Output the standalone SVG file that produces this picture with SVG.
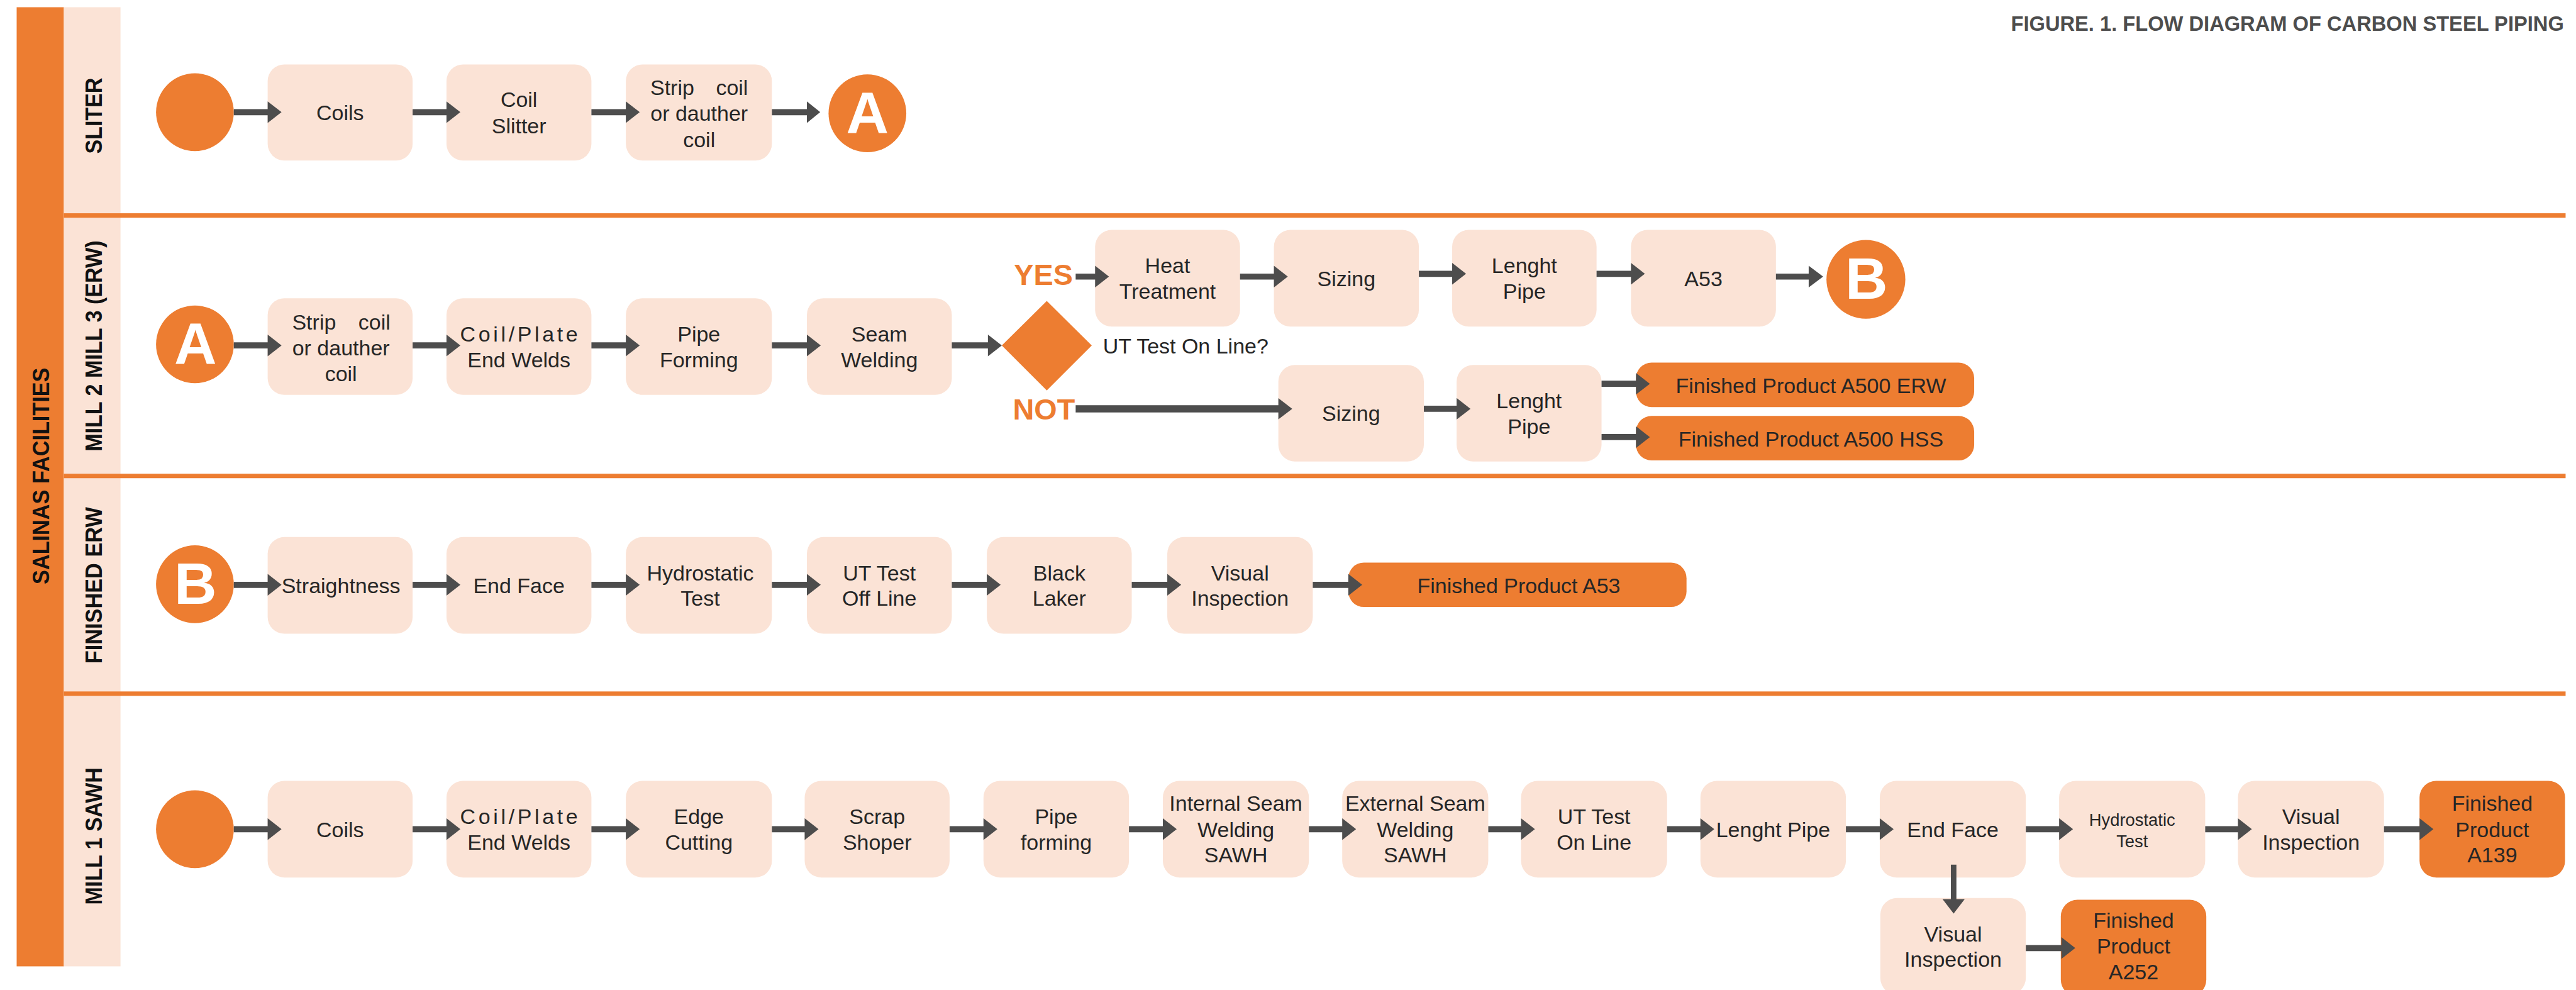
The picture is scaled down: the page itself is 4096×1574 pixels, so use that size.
<svg xmlns="http://www.w3.org/2000/svg" width="4096" height="1574" viewBox="0 0 4096 1574">
<style>
.bx{fill:#FBE3D6}
.fn{fill:#ED7D31}
.ci{fill:#ED7D31}
.t{font-family:'Liberation Sans',Arial,sans-serif;font-size:38.5px;fill:#262626;text-anchor:middle}
.ts{font-family:'Liberation Sans',Arial,sans-serif;font-size:31px;fill:#262626;text-anchor:middle}
.lt{font-family:'Liberation Sans',Arial,sans-serif;font-size:38.5px;fill:#262626}
.big{font-family:'Liberation Sans',Arial,sans-serif;font-weight:bold;font-size:106px;fill:#FFFFFF;text-anchor:middle}
.yn{font-family:'Liberation Sans',Arial,sans-serif;font-weight:bold;font-size:53px;fill:#ED7D31}
.ln{font-family:'Liberation Sans',Arial,sans-serif;font-weight:bold;font-size:42px;fill:#111111;text-anchor:middle}
.ttl{font-family:'Liberation Sans',Arial,sans-serif;font-weight:bold;font-size:37px;fill:#4D4D4D;text-anchor:end}
.ar{fill:#4D4D4D}
.sep{fill:#ED7D31}
</style>
<rect x="0" y="0" width="4096" height="1574" fill="#FFFFFF"/>
<g transform="scale(0.883)">
<g id="frame">
<rect x="30" y="13" width="85" height="1727" fill="#ED7D31"/>
<rect x="115" y="13" width="102" height="1727" fill="#FBE3D6"/>
<rect class="sep" x="115" y="384" width="4505" height="8"/>
<rect class="sep" x="115" y="853" width="4505" height="8"/>
<rect class="sep" x="115" y="1245" width="4505" height="8"/>
<text class="ln" font-size="43" transform="translate(88,857) rotate(-90)" textLength="390" lengthAdjust="spacingAndGlyphs">SALINAS FACILITIES</text>
<text class="ln" transform="translate(184,208.5) rotate(-90)" textLength="137" lengthAdjust="spacingAndGlyphs">SLITER</text>
<text class="ln" transform="translate(183,623) rotate(-90)" textLength="380" lengthAdjust="spacingAndGlyphs">MILL 2 MILL 3 (ERW)</text>
<text class="ln" transform="translate(184,1054) rotate(-90)" textLength="282" lengthAdjust="spacingAndGlyphs">FINISHED ERW</text>
<text class="ln" transform="translate(184,1505.5) rotate(-90)" textLength="247" lengthAdjust="spacingAndGlyphs">MILL 1 SAWH</text>
<text class="ttl" x="4617" y="55">FIGURE. 1. FLOW DIAGRAM OF CARBON STEEL PIPING</text>
</g>

<!-- Lane 1: SLITER -->
<g id="s-start"><circle class="ci" cx="351" cy="202" r="70"/></g>
<g id="s-coils"><rect class="bx" x="482" y="116" width="261" height="173" rx="30"/><text class="t" x="612.5" y="216">Coils</text></g>
<g id="s-slitter"><rect class="bx" x="804" y="116" width="261" height="173" rx="30"/><text class="t" x="934.5" y="193">Coil</text><text class="t" x="934.5" y="240">Slitter</text></g>
<g id="s-strip"><rect class="bx" x="1127" y="116" width="263" height="173" rx="30"/><text class="lt" x="1171" y="171">Strip</text><text class="lt" x="1347" y="171" text-anchor="end">coil</text><text class="t" x="1259" y="218">or dauther</text><text class="t" x="1259" y="265">coil</text></g>
<g id="s-A"><circle class="ci" cx="1562" cy="204" r="70"/><text class="big" x="1562" y="239">A</text></g>

<!-- Lane 2: MILL 2 MILL 3 (ERW) -->
<g id="m-A"><circle class="ci" cx="351" cy="620" r="70"/><text class="big" x="352" y="655">A</text></g>
<g id="m-strip"><rect class="bx" x="482" y="537" width="261" height="174" rx="30"/><text class="lt" x="526" y="593">Strip</text><text class="lt" x="703" y="593" text-anchor="end">coil</text><text class="t" x="614" y="640">or dauther</text><text class="t" x="614" y="686">coil</text></g>
<g id="m-endwelds"><rect class="bx" x="804" y="537" width="261" height="174" rx="30"/><text class="t" x="934.5" y="615" textLength="212" lengthAdjust="spacing">Coil/Plate</text><text class="t" x="934.5" y="661">End Welds</text></g>
<g id="m-forming"><rect class="bx" x="1127" y="537" width="263" height="174" rx="30"/><text class="t" x="1258.5" y="615">Pipe</text><text class="t" x="1258.5" y="661">Forming</text></g>
<g id="m-seam"><rect class="bx" x="1453" y="537" width="261" height="174" rx="30"/><text class="t" x="1583.5" y="615">Seam</text><text class="t" x="1583.5" y="661">Welding</text></g>
<g id="m-decision"><polygon class="fn" points="1804,622 1885,542 1966,622 1885,703"/><text class="lt" x="1986" y="637">UT Test On Line?</text><text class="yn" x="1826" y="513">YES</text><text class="yn" x="1824" y="755">NOT</text></g>
<g id="m-heat"><rect class="bx" x="1972" y="414" width="261" height="174" rx="30"/><text class="t" x="2102.5" y="492">Heat</text><text class="t" x="2102.5" y="538">Treatment</text></g>
<g id="m-sizing1"><rect class="bx" x="2294" y="414" width="261" height="174" rx="30"/><text class="t" x="2424.5" y="515">Sizing</text></g>
<g id="m-length1"><rect class="bx" x="2615" y="414" width="260" height="174" rx="30"/><text class="t" x="2745" y="492">Lenght</text><text class="t" x="2745" y="538">Pipe</text></g>
<g id="m-a53"><rect class="bx" x="2937" y="414" width="261" height="174" rx="30"/><text class="t" x="3067.5" y="515">A53</text></g>
<g id="m-B"><circle class="ci" cx="3360" cy="503" r="71"/><text class="big" x="3361" y="538">B</text></g>
<g id="m-sizing2"><rect class="bx" x="2302" y="657" width="262" height="174" rx="30"/><text class="t" x="2433" y="758">Sizing</text></g>
<g id="m-length2"><rect class="bx" x="2623" y="657" width="261" height="174" rx="30"/><text class="t" x="2753.5" y="735">Lenght</text><text class="t" x="2753.5" y="781">Pipe</text></g>
<g id="m-a500erw"><rect class="fn" x="2946" y="653" width="609" height="80" rx="28"/><text class="t" x="3261" y="708">Finished Product A500 ERW</text></g>
<g id="m-a500hss"><rect class="fn" x="2946" y="749" width="609" height="80" rx="28"/><text class="t" x="3261" y="804">Finished Product A500 HSS</text></g>

<!-- Lane 3: FINISHED ERW -->
<g id="f-B"><circle class="ci" cx="351" cy="1052" r="70"/><text class="big" x="352" y="1087">B</text></g>
<g id="f-straight"><rect class="bx" x="482" y="967" width="261" height="174" rx="30"/><text class="t" x="614" y="1068">Straightness</text></g>
<g id="f-endface"><rect class="bx" x="804" y="967" width="261" height="174" rx="30"/><text class="t" x="934.5" y="1068">End Face</text></g>
<g id="f-hydro"><rect class="bx" x="1127" y="967" width="263" height="174" rx="30"/><text class="t" x="1261" y="1045">Hydrostatic</text><text class="t" x="1261" y="1091">Test</text></g>
<g id="f-ut"><rect class="bx" x="1453" y="967" width="261" height="174" rx="30"/><text class="t" x="1583.5" y="1045">UT Test</text><text class="t" x="1583.5" y="1091">Off Line</text></g>
<g id="f-black"><rect class="bx" x="1777" y="967" width="261" height="174" rx="30"/><text class="t" x="1907.5" y="1045">Black</text><text class="t" x="1907.5" y="1091">Laker</text></g>
<g id="f-visual"><rect class="bx" x="2102" y="967" width="262" height="174" rx="30"/><text class="t" x="2233" y="1045">Visual</text><text class="t" x="2233" y="1091">Inspection</text></g>
<g id="f-a53"><rect class="fn" x="2428" y="1013" width="609" height="80" rx="28"/><text class="t" x="2735" y="1068">Finished Product A53</text></g>

<!-- Lane 4: MILL 1 SAWH -->
<g id="w-start"><circle class="ci" cx="351" cy="1493" r="70"/></g>
<g id="w-coils"><rect class="bx" x="482" y="1406" width="261" height="174" rx="30"/><text class="t" x="612.5" y="1507">Coils</text></g>
<g id="w-endwelds"><rect class="bx" x="804" y="1406" width="261" height="174" rx="30"/><text class="t" x="934.5" y="1484" textLength="212" lengthAdjust="spacing">Coil/Plate</text><text class="t" x="934.5" y="1530">End Welds</text></g>
<g id="w-edge"><rect class="bx" x="1127" y="1406" width="263" height="174" rx="30"/><text class="t" x="1258.5" y="1484">Edge</text><text class="t" x="1258.5" y="1530">Cutting</text></g>
<g id="w-scrap"><rect class="bx" x="1449" y="1406" width="261" height="174" rx="30"/><text class="t" x="1579.5" y="1484">Scrap</text><text class="t" x="1579.5" y="1530">Shoper</text></g>
<g id="w-forming"><rect class="bx" x="1771" y="1406" width="262" height="174" rx="30"/><text class="t" x="1902" y="1484">Pipe</text><text class="t" x="1902" y="1530">forming</text></g>
<g id="w-internal"><rect class="bx" x="2094" y="1406" width="263" height="174" rx="30"/><text class="t" x="2225.5" y="1460">Internal Seam</text><text class="t" x="2225.5" y="1507">Welding</text><text class="t" x="2225.5" y="1553">SAWH</text></g>
<g id="w-external"><rect class="bx" x="2417" y="1406" width="263" height="174" rx="30"/><text class="t" x="2548.5" y="1460">External Seam</text><text class="t" x="2548.5" y="1507">Welding</text><text class="t" x="2548.5" y="1553">SAWH</text></g>
<g id="w-ut"><rect class="bx" x="2739" y="1406" width="263" height="174" rx="30"/><text class="t" x="2870.5" y="1484">UT Test</text><text class="t" x="2870.5" y="1530">On Line</text></g>
<g id="w-length"><rect class="bx" x="3062" y="1406" width="262" height="174" rx="30"/><text class="t" x="3193" y="1507">Lenght Pipe</text></g>
<g id="w-endface"><rect class="bx" x="3385" y="1406" width="263" height="174" rx="30"/><text class="t" x="3516.5" y="1507">End Face</text></g>
<g id="w-hydro"><rect class="bx" x="3708" y="1406" width="263" height="174" rx="30"/><text class="ts" x="3839.5" y="1487">Hydrostatic</text><text class="ts" x="3839.5" y="1525">Test</text></g>
<g id="w-visual"><rect class="bx" x="4030" y="1406" width="263" height="174" rx="30"/><text class="t" x="4161.5" y="1484">Visual</text><text class="t" x="4161.5" y="1530">Inspection</text></g>
<g id="w-a139"><rect class="fn" x="4357" y="1406" width="262" height="174" rx="30"/><text class="t" x="4488" y="1460">Finished</text><text class="t" x="4488" y="1507">Product</text><text class="t" x="4488" y="1553">A139</text></g>
<g id="w-visual2"><rect class="bx" x="3386" y="1617" width="262" height="174" rx="30"/><text class="t" x="3517" y="1695">Visual</text><text class="t" x="3517" y="1741">Inspection</text></g>
<g id="w-a252"><rect class="fn" x="3711" y="1620" width="262" height="174" rx="30"/><text class="t" x="3842" y="1670">Finished</text><text class="t" x="3842" y="1717">Product</text><text class="t" x="3842" y="1763">A252</text></g>

<g id="connectors" class="ar">
<path d="M421 196.5H482V182.5L507 202L482 221.5V207.5H421Z"/>
<path d="M743 196.5H804V182.5L829 202L804 221.5V207.5H743Z"/>
<path d="M1065 196.5H1127V182.5L1152 202L1127 221.5V207.5H1065Z"/>
<path d="M1390 196.5H1453V182.5L1477 202L1453 221.5V207.5H1390Z"/>

<path d="M421 616.5H482V602.5L507 622L482 641.5V627.5H421Z"/>
<path d="M743 616.5H804V602.5L829 622L804 641.5V627.5H743Z"/>
<path d="M1065 616.5H1127V602.5L1152 622L1127 641.5V627.5H1065Z"/>
<path d="M1390 616.5H1453V602.5L1478 622L1453 641.5V627.5H1390Z"/>
<path d="M1714 616.5H1779V602.5L1804 622L1779 641.5V627.5H1714Z"/>
<path d="M1937 492.5H1972V478.5L1997 498L1972 517.5V503.5H1937Z"/>
<path d="M2233 492.5H2294V478.5L2319 498L2294 517.5V503.5H2233Z"/>
<path d="M2555 487.5H2615V473.5L2640 493L2615 512.5V498.5H2555Z"/>
<path d="M2875 487.5H2937V473.5L2962 493L2937 512.5V498.5H2875Z"/>
<path d="M3198 492.5H3257V478.5L3283 498L3257 517.5V503.5H3198Z"/>
<path d="M1937 729.5H2302V717L2327 736L2302 755V742.5H1937Z"/>
<path d="M2564 730.5H2623V716.5L2648 736L2623 755.5V741.5H2564Z"/>
<path d="M2884 685.5H2946V671.5L2971 691L2946 710.5V696.5H2884Z"/>
<path d="M2884 781.5H2946V767.5L2971 787L2946 806.5V792.5H2884Z"/>

<path d="M421 1047.5H482V1033.5L507 1053L482 1072.5V1058.5H421Z"/>
<path d="M743 1047.5H804V1033.5L829 1053L804 1072.5V1058.5H743Z"/>
<path d="M1065 1047.5H1127V1033.5L1152 1053L1127 1072.5V1058.5H1065Z"/>
<path d="M1390 1047.5H1453V1033.5L1478 1053L1453 1072.5V1058.5H1390Z"/>
<path d="M1714 1047.5H1777V1033.5L1802 1053L1777 1072.5V1058.5H1714Z"/>
<path d="M2038 1047.5H2102V1033.5L2127 1053L2102 1072.5V1058.5H2038Z"/>
<path d="M2364 1047.5H2428V1033.5L2453 1053L2428 1072.5V1058.5H2364Z"/>

<path d="M421 1487.5H482V1473.5L507 1493L482 1512.5V1498.5H421Z"/>
<path d="M743 1487.5H804V1473.5L829 1493L804 1512.5V1498.5H743Z"/>
<path d="M1065 1487.5H1127V1473.5L1152 1493L1127 1512.5V1498.5H1065Z"/>
<path d="M1390 1487.5H1449V1473.5L1474 1493L1449 1512.5V1498.5H1390Z"/>
<path d="M1710 1487.5H1771V1473.5L1796 1493L1771 1512.5V1498.5H1710Z"/>
<path d="M2033 1487.5H2094V1473.5L2119 1493L2094 1512.5V1498.5H2033Z"/>
<path d="M2357 1487.5H2417V1473.5L2442 1493L2417 1512.5V1498.5H2357Z"/>
<path d="M2680 1487.5H2739V1473.5L2764 1493L2739 1512.5V1498.5H2680Z"/>
<path d="M3002 1487.5H3062V1473.5L3087 1493L3062 1512.5V1498.5H3002Z"/>
<path d="M3324 1487.5H3385V1473.5L3410 1493L3385 1512.5V1498.5H3324Z"/>
<path d="M3648 1487.5H3708V1473.5L3733 1493L3708 1512.5V1498.5H3648Z"/>
<path d="M3971 1487.5H4030V1473.5L4055 1493L4030 1512.5V1498.5H3971Z"/>
<path d="M4293 1487.5H4357V1473.5L4382 1493L4357 1512.5V1498.5H4293Z"/>
<path d="M3513 1557V1619H3498L3518 1645L3538 1619H3523V1557Z"/>
<path d="M3648 1701.5H3712V1687.5L3737 1707L3712 1726.5V1712.5H3648Z"/>
</g>
</g>
</svg>
